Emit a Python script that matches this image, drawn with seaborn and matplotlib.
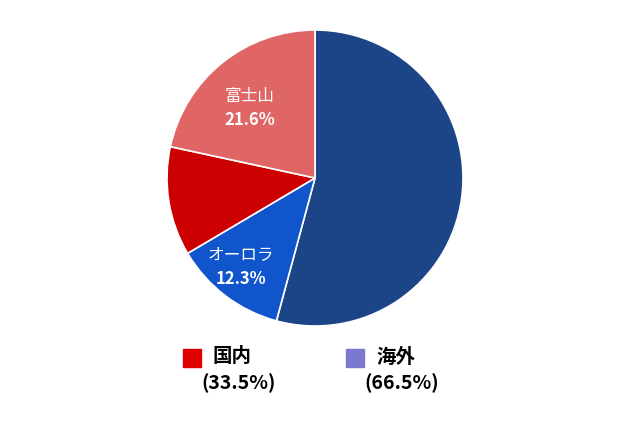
import matplotlib
matplotlib.use("Agg")
import matplotlib.pyplot as plt
from matplotlib.patches import Rectangle
import seaborn as sns

# Data
slice_names = ["海外その他", "オーロラ", "国内その他", "富士山"]
slice_values = [54.2, 12.3, 11.9, 21.6]
slice_colors = ["#1c4587", "#1155cc", "#cc0000", "#e06666"]
shown_labels = {"富士山": (-0.44, 0.47), "オーロラ": (-0.50, -0.60)}

legend_names = ["国内", "海外"]
legend_values = [33.5, 66.5]
legend_colors = ["#e00000", "#7b78d0"]

sns.set_theme(style="white")
plt.rcParams["font.family"] = ["Noto Sans CJK JP", "DejaVu Sans"]

fig = plt.figure(figsize=(6.4, 4.26), dpi=100)
cx, cy, r = 315, 178, 148
ax = fig.add_axes([(cx - r) / 640, (426 - cy - r) / 426, 2 * r / 640, 2 * r / 426])
ax.pie(slice_values, colors=slice_colors, startangle=90, counterclock=False,
       wedgeprops=dict(edgecolor="white", linewidth=1.2))
ax.set_xlim(-1, 1)
ax.set_ylim(-1, 1)
ax.set_aspect("equal")
ax.axis("off")

for name, val in zip(slice_names, slice_values):
    if name in shown_labels:
        x, y = shown_labels[name]
        ax.text(x, y + 0.08, name, color="white", ha="center", va="center", fontsize=12)
        ax.text(x, y - 0.08, f"{val}%", color="white", ha="center", va="center",
                fontsize=12, fontweight="bold")

# Legend below the pie
for i, (name, val, col) in enumerate(zip(legend_names, legend_values, legend_colors)):
    x0 = 183 + i * 163
    fig.patches.append(Rectangle((x0 / 640, (426 - 367) / 426), 18 / 640, 18 / 426,
                                 transform=fig.transFigure, color=col))
    fig.text((x0 + 30) / 640, 1 - 357 / 426, name, fontsize=14, fontweight="bold",
             va="center", ha="left", color="black")
    fig.text((x0 + 18) / 640, 1 - 383 / 426, f"({val}%)", fontsize=14, fontweight="bold",
             va="center", ha="left", color="black")

fig.savefig("out.png", dpi=100, facecolor="white")
